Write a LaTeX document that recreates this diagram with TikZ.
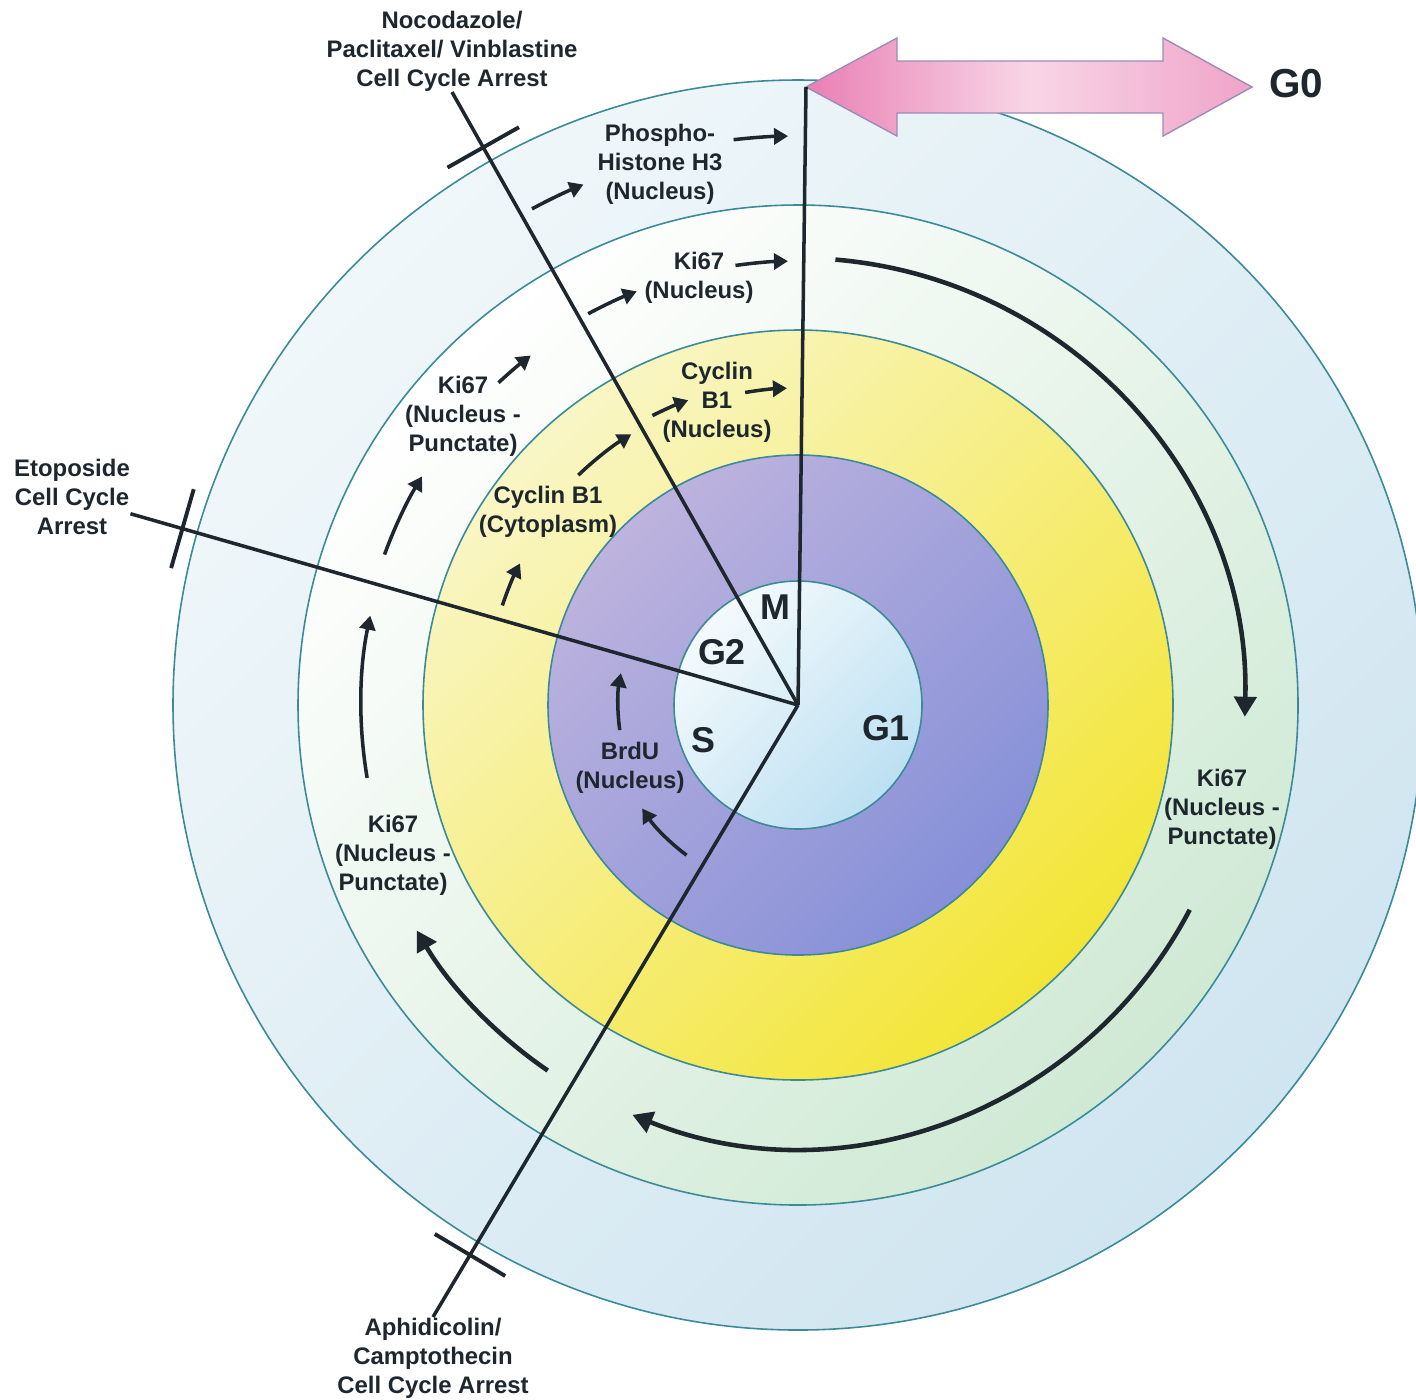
\documentclass[tikz,border=0pt]{standalone}
\usepackage{fontspec}
\setmainfont{Liberation Sans}
\usetikzlibrary{arrows.meta,calc}
\definecolor{txt}{HTML}{1E262E}
\definecolor{ringline}{HTML}{3A8A98}
\definecolor{outerA}{HTML}{F0F7FA}
\definecolor{outerB}{HTML}{CFE5F0}
\definecolor{midA}{HTML}{FFFFFF}
\definecolor{midB}{HTML}{CFE9D4}
\definecolor{yelA}{HTML}{F9F6C6}
\definecolor{yelB}{HTML}{F3E535}
\definecolor{purA}{HTML}{BDB3DE}
\definecolor{purB}{HTML}{8690D8}
\definecolor{innA}{HTML}{F4FAFC}
\definecolor{innB}{HTML}{BCE0F2}
\definecolor{pinkA}{HTML}{E97FB4}
\definecolor{pinkB}{HTML}{F8D6E6}
\definecolor{pinkC}{HTML}{EFA3C9}
\definecolor{pinkline}{HTML}{9C8DB8}

\begin{document}
\begin{tikzpicture}[x=0.01cm, y=0.01cm,
  lbl/.style={align=center, inner sep=0pt, text=txt, font=\fontsize{6.8}{8.3}\selectfont\bfseries},
  phase/.style={inner sep=0pt, text=txt, font=\fontsize{10.2}{12}\selectfont\bfseries},
  ring/.style={draw=ringline, line width=0.45pt},
  ray/.style={draw=txt, line width=1pt},
  bar/.style={draw=txt, line width=1.1pt},
  arr/.style={-{Triangle[length=1.4mm,width=1.6mm]}, draw=txt, line width=1pt},
  bigarr/.style={-{Triangle[length=2mm,width=2.2mm]}, draw=txt, line width=1.3pt}]
\fill[white] (0,0) rectangle (1416,-1399);
\useasboundingbox (0,0) rectangle (1416,-1399);
\coordinate (c) at (798,-705);

% rings, outside in
\shadedraw[ring, top color=outerA, bottom color=outerB, shading angle=45] (c) circle[radius=625];
\shadedraw[ring, top color=midA, bottom color=midB, shading angle=45] (c) circle[radius=500];
\shadedraw[ring, top color=yelA, bottom color=yelB, shading angle=45] (c) circle[radius=375];
\shadedraw[ring, top color=purA, bottom color=purB, shading angle=45] (c) circle[radius=250];
\shadedraw[ring, top color=innA, bottom color=innB, shading angle=45] (c) circle[radius=124];

% G0 exit
\shadedraw[draw=pinkline, line width=0.4pt, left color=pinkA, right color=pinkC, middle color=pinkB]
  (806,-87) -- (897,-38) -- (897,-61) -- (1163,-61) -- (1163,-38) -- (1252,-87)
  -- (1163,-136) -- (1163,-113) -- (897,-113) -- (897,-136) -- cycle;
\coordinate (tip) at (806,-87);
\node[phase, font=\fontsize{11.5}{13}\selectfont\bfseries] (g0) at (1296,-84) {G0};

% arrest labels
\node[lbl] (noco) at (452,-51) {Nocodazole/\\Paclitaxel/ Vinblastine\\Cell Cycle Arrest};
\node[lbl] (etop) at (72,-497) {Etoposide\\Cell Cycle\\Arrest};
\node[lbl] (aphi) at (433,-1358) {Aphidicolin/\\Camptothecin\\Cell Cycle Arrest};

% phase borders
\draw[ray] (c) -- (tip);
\draw[ray] (c) -- (noco.south);
\draw[ray] (c) -- (etop);
\draw[ray] (c) -- (aphi.north);

\coordinate (nb) at ($(c)!6.4cm!(noco.south)$);
\coordinate (eb) at ($(c)!6.4cm!(etop)$);
\coordinate (ab) at ($(c)!6.4cm!(aphi.north)$);
\draw[bar] ($(nb)!4.1mm!90:(c)$) -- ($(nb)!4.1mm!-90:(c)$);
\draw[bar] ($(eb)!4.1mm!90:(c)$) -- ($(eb)!4.1mm!-90:(c)$);
\draw[bar] ($(ab)!4.1mm!90:(c)$) -- ($(ab)!4.1mm!-90:(c)$);

% phases
\node[phase] (m) at (775,-607) {M};
\node[phase] (g2) at (722,-652) {G2};
\node[phase] (s) at (703,-740) {S};
\node[phase] (g1) at (886,-728) {G1};

% markers
\node[lbl] (phos) at (660,-164) {Phospho-\\Histone H3\\(Nucleus)};
\node[lbl] (kiT) at (699,-278) {Ki67\\(Nucleus)};
\node[lbl] (kiUL) at (463,-416) {Ki67\\(Nucleus -\\Punctate)};
\node[lbl] (cycN) at (717,-402) {Cyclin\\B1\\(Nucleus)};
\node[lbl] (cycC) at (548,-512) {Cyclin B1\\(Cytoplasm)};
\node[lbl] (brdu) at (630,-768) {BrdU\\(Nucleus)};
\node[lbl] (kiLL) at (393,-855) {Ki67\\(Nucleus -\\Punctate)};
\node[lbl] (kiR) at (1222,-809) {Ki67\\(Nucleus -\\Punctate)};

% outer ring
\draw[arr] ([shift={(118.2:563)}]c) arc[start angle=118.2, end angle=112.4, radius=563];
\draw[arr] ([shift={(96.5:569)}]c) arc[start angle=96.5, end angle=91, radius=569];
% ki67 ring
\draw[arr] ([shift={(189.6:437)}]c) arc[start angle=189.6, end angle=168.2, radius=437];
\draw[arr] ([shift={(160:440)}]c) arc[start angle=160, end angle=148.7, radius=440];
\draw[arr] ([shift={(132.9:440)}]c) arc[start angle=132.9, end angle=127.4, radius=440];
\draw[arr] ([shift={(118.2:444)}]c) arc[start angle=118.2, end angle=111.3, radius=444];
\draw[arr] ([shift={(98.1:444)}]c) arc[start angle=98.1, end angle=91.3, radius=444];
\draw[bigarr] ([shift={(85.2:447)}]c) arc[start angle=85.2, end angle=-1.5, radius=447];
\draw[bigarr] ([shift={(-27.6:442)}]c) arc[start angle=-27.6, end angle=-112, radius=442];
\draw[bigarr] ([shift={(235.6:443)}]c) arc[start angle=235.6, end angle=210.6, radius=443];
% cyclin ring
\draw[arr] ([shift={(161.4:312)}]c) arc[start angle=161.4, end angle=153, radius=312];
\draw[arr] ([shift={(133.7:318)}]c) arc[start angle=133.7, end angle=121.6, radius=318];
\draw[arr] ([shift={(116.7:324)}]c) arc[start angle=116.7, end angle=109.8, radius=324];
\draw[arr] ([shift={(99.6:317)}]c) arc[start angle=99.6, end angle=92, radius=317];
% brdu ring
\draw[arr] ([shift={(233.4:187)}]c) arc[start angle=233.4, end angle=213.6, radius=187];
\draw[arr] ([shift={(188:180)}]c) arc[start angle=188, end angle=169.8, radius=180];
\end{tikzpicture}
\end{document}
